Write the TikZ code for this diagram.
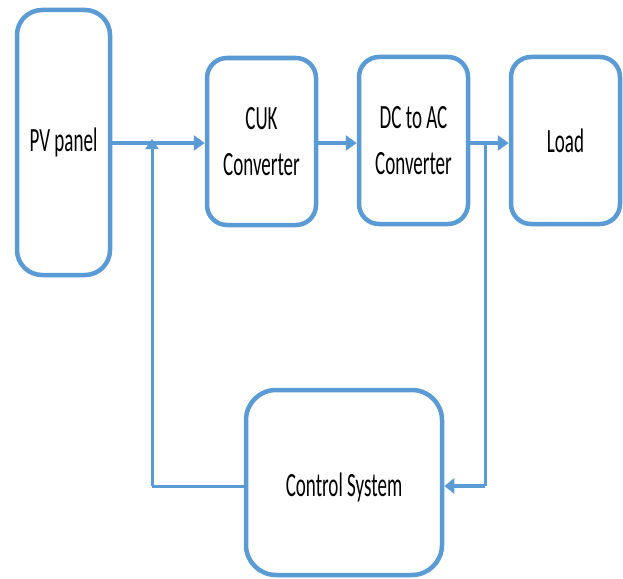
\documentclass[tikz,border=0pt]{standalone}
\usepackage{fontspec}
\setmainfont{Carlito}[FakeStretch=0.56]
\usetikzlibrary{arrows.meta}
\definecolor{bl}{RGB}{91,155,213}
\tikzset{
  blk/.style={draw=bl, line width=4.5pt, fill=white, rounded corners=#1, inner sep=0pt, align=center,
    font=\fontsize{34}{46}\selectfont},
  blk/.default=20pt,
  conn/.style={draw=bl, line width=4pt, -{Triangle[length=11pt,width=15pt]}},
  fb/.style={draw=bl, line width=3pt},
}
\begin{document}
\begin{tikzpicture}[x=1pt,y=-1pt]
\useasboundingbox (0,0) rectangle (623,578);
\node[blk=25pt, minimum width=93pt, minimum height=265pt] (pv) at (63.5,142.5) {PV panel};
\node[blk, minimum width=109pt, minimum height=167pt] (cuk) at (261.5,141.5) {CUK\\Converter};
\node[blk, minimum width=109pt, minimum height=167pt] (dcac) at (413.5,140.5) {DC to AC\\Converter};
\node[blk, minimum width=109pt, minimum height=167pt] (load) at (565.5,140.5) {Load};
\node[blk=30pt, minimum width=196pt, minimum height=185pt] (ctrl) at (344,482.5) {\raisebox{-5pt}[\height][\depth]{Control System}};
\coordinate (j1) at (152,143);
\coordinate (j2) at (485,143);
\coordinate (c1) at (152,486);
\coordinate (c2) at (485,486);
\draw[conn] (pv.east |- j1) -- (cuk.west |- j1);
\draw[conn] (cuk.east |- j1) -- (dcac.west |- j1);
\draw[conn] (dcac.east |- j2) -- (load.west |- j2);
\draw[fb] (ctrl.west |- c1) -- (c1);
\draw[fb, -{Triangle[length=10pt,width=13pt]}] (c1) -- ([yshift=4pt]j1);
\draw[fb] (j2) -- (c2);
\draw[fb, line width=4pt, -{Triangle[length=10pt,width=15pt]}] (c2) -- (ctrl.east |- c2);
\end{tikzpicture}
\end{document}
